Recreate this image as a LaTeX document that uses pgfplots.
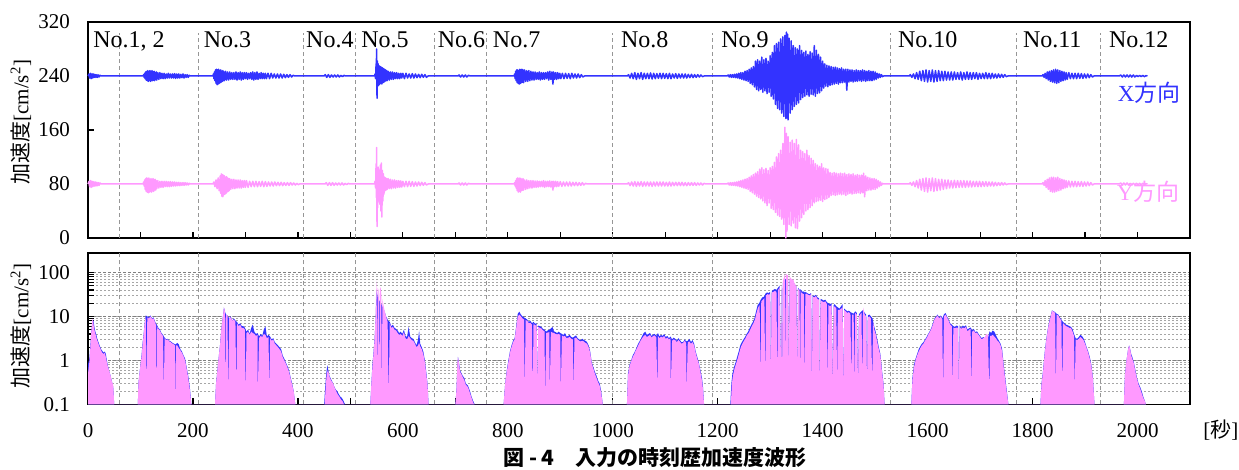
\documentclass[border=0pt]{standalone}
\usepackage{fontspec}
\setmainfont{Liberation Serif}
\newfontfamily\jp{Noto Sans CJK JP}
\usepackage{pgfplots}
\pgfplotsset{compat=1.18}
\definecolor{xblue}{RGB}{51,51,255}
\definecolor{ypink}{RGB}{255,153,255}
\definecolor{sepgray}{RGB}{150,150,150}
\pgfplotsset{
  common/.style={
    scale only axis, width=551pt, xmin=0, xmax=2100, clip=false,
    axis line style={line width=0.9pt},
    tick align=inside, xtick pos=bottom, ytick pos=left,
    major tick length=3pt, minor tick length=3pt,
    tick style={black, line width=0.6pt},
    xtick={0,200,...,2000}, minor x tick num=1,
    tick label style={font=\fontsize{10.5}{12}\selectfont},
    /pgf/number format/assume math mode=true,
    /pgf/number format/1000 sep={},
    yticklabel shift=5.5pt,
  },
  sepline/.style={sepgray, line width=0.5pt, dash pattern=on 2pt off 1.5pt, unbounded coords=jump},
  wave/.style={line width=0.75pt, line join=round},
}

\begin{document}
\begin{tikzpicture}
\useasboundingbox (-44pt,-116pt) rectangle (575.5pt,119pt);

% upper: acceleration time history
\begin{axis}[common, at={(0pt,0pt)}, anchor=south west, height=108pt,
  ymin=0, ymax=320, ytick={0,80,160,240,320}, xticklabels={}]
\addplot[sepline] coordinates {(60,0)(60,304)(60,nan) (210,0)(210,304)(210,nan) (410,0)(410,304)(410,nan) (510,0)(510,304)(510,nan) (660,0)(660,304)(660,nan) (760,0)(760,304)(760,nan) (1000,0)(1000,304)(1000,nan) (1190,0)(1190,304)(1190,nan) (1530,0)(1530,304)(1530,nan) (1770,0)(1770,304)(1770,nan) (1930,0)(1930,304)};

% X direction (offset 240)
\addplot[wave, xblue] coordinates {
(0,240) (2,243) (3,237) (5,244) (6,236) (8,243) (9,237) (11,243) (12,238) (14,242) (15,238) (17,242) (18,238) (20,241.5) (21,238.5) (23,241) (25,240)
(105,240) (106,242) (107,238) (108,244) (109,236) (110,246) (111,234) (112,247) (113,233) (114,248) (115,232) (116,246) (117,234) (118,248) (119,232) (120,247) (121,233) (122,248) (123,233) (124,246) (125,234) (126,247) (127,233) (128,245) (129,235) (130,246) (131,234) (133,245) (135,235) (137,245) (139,236) (141,244) (143,236) (145,244) (147,236) (149,243) (151,237) (153,244) (155,237) (157,243) (159,237) (161,243) (163,237) (165,243.5) (167,236.5) (169,243) (171,237) (173,243) (175,237) (177,242.5) (179,237.5) (181,243) (183,237) (185,242) (187,238) (189,242) (191,238) (193,241) (195,240)
(238,240) (239,243) (240,236) (241,246) (242,233) (243,249) (244,229) (245,250) (246,227) (247,249) (248,228) (249,250) (250,229) (251,248) (252,230) (253,249) (254,231) (255,247) (256,232) (257,248) (258,233) (259,246) (260,233) (262,247) (264,234) (266,246) (268,234) (270,246) (272,235) (274,245) (276,235) (278,245) (280,235) (282,246) (284,234) (286,245) (288,235) (290,246) (292,234) (294,245) (296,235) (298,245) (300,236) (302,245) (304,235) (306,244) (308,236) (310,245) (312,235) (314,246) (316,234) (318,245) (320,235) (322,246) (324,235) (326,244) (328,236) (330,245) (332,236) (334,244) (336,236) (338,244) (340,236) (343,244) (346,236) (349,244) (352,237) (355,243) (358,237) (361,243) (364,237) (367,243) (370,237) (373,242.5) (376,237.5) (379,242) (382,238) (385,242) (388,238.5) (391,241) (394,240)
(450,240) (452,242) (455,238) (458,242) (461,238) (464,241.5) (467,238.5) (470,241.5) (473,238.5) (476,241.5) (479,238.5) (482,241) (485,239) (488,241) (490,240)
(546,240) (547,243) (548,236) (549,258) (549.5,250) (550,280) (550.5,215) (551,207) (551.5,262) (552,225) (553,258) (554,226) (555,255) (556,228) (557,254) (558,229) (559,253) (560,228) (561,252) (562,230) (563,251) (564,231) (565,250) (566,232) (567,249) (568,233) (569,248) (570,233) (572,247) (574,234) (576,246) (578,235) (580,246) (582,235) (584,245) (586,236) (588,245) (590,236) (592,244) (594,236) (596,244) (598,237) (600,244) (603,236) (606,244) (609,237) (612,243) (615,237) (618,243.5) (621,237) (624,243) (627,237.5) (630,242.5) (633,237.5) (636,242.5) (639,238) (642,242) (645,238) (648,240)
(705,240) (707,241.5) (710,238.5) (713,241.5) (716,238.5) (719,241.5) (722,238.5) (725,241) (728,240)
(812,240) (813,243) (814,236) (815,247) (816,233) (817,249) (818,230) (819,249) (820,229) (821,248) (822,228) (823,250) (824,229) (825,249) (826,230) (827,250) (828,231) (829,249) (830,230) (832,249) (834,232) (836,248) (838,232) (840,248) (842,233) (844,247) (846,234) (848,246) (850,234) (852,246) (854,235) (856,245) (858,235) (860,246) (862,234) (864,245) (866,235) (868,245) (870,235) (872,245) (874,236) (876,246) (878,234) (880,247) (882,235) (884,246) (886,228) (887,246) (889,235) (891,245) (893,235) (895,245) (897,236) (899,244) (901,236) (904,244) (907,236) (910,244) (913,236.5) (916,243.5) (919,236) (922,244) (925,237) (928,243) (931,237) (934,243) (937,237.5) (940,242) (943,238.5) (946,240)
(1028,240) (1030,242) (1033,237) (1036,244) (1039,236) (1042,245) (1045,235) (1048,244) (1051,236) (1054,245) (1057,235) (1060,244) (1063,236) (1066,244) (1069,236) (1072,244.5) (1075,235.5) (1078,244) (1081,236) (1084,243.5) (1087,236.5) (1090,244) (1093,236) (1096,244) (1099,236.5) (1102,243.5) (1105,236) (1108,244) (1111,236) (1114,243) (1117,237) (1120,243.5) (1123,236.5) (1126,243) (1129,237) (1132,243) (1135,237) (1138,243) (1141,237) (1144,242.5) (1147,237.5) (1150,242.5) (1153,237.5) (1156,242) (1159,238) (1162,242) (1165,238.5) (1168,241.5) (1171,239) (1174,240)
(1218,240) (1220,241.5) (1222,238.5) (1224,242) (1226,238) (1228,242) (1230,238) (1232,242.5) (1234,237.5) (1236,243) (1238,237) (1240,244) (1242,236) (1244,245) (1246,235) (1248,245) (1250,234) (1252,247) (1254,233) (1256,248) (1258,232) (1260,250) (1262,229) (1264,252) (1266,227) (1268,254) (1270,224) (1272,262) (1274,220) (1276,264) (1278,218) (1280,262) (1282,220) (1284,268) (1286,216) (1288,264) (1290,218) (1292,266) (1294,214) (1296,262) (1298,216) (1300,270) (1302,210) (1304,275) (1306,206) (1308,285) (1310,198) (1312,288) (1314,192) (1316,290) (1318,190) (1320,295) (1322,185) (1324,298) (1326,180) (1328,300) (1330,177) (1331,305) (1332,178) (1333,302) (1334,175) (1336,296) (1338,185) (1340,292) (1342,190) (1344,285) (1346,195) (1348,282) (1350,198) (1352,280) (1354,200) (1356,285) (1358,205) (1360,278) (1362,208) (1364,275) (1366,210) (1368,277) (1370,212) (1372,272) (1374,210) (1376,276) (1378,213) (1380,274) (1382,212) (1384,285) (1386,210) (1388,278) (1390,214) (1392,272) (1394,215) (1396,268) (1398,218) (1400,262) (1402,222) (1404,258) (1406,225) (1408,256) (1410,224) (1412,255) (1414,226) (1416,254) (1418,227) (1420,253) (1422,228) (1424,253) (1426,229) (1428,252) (1430,228) (1432,251) (1434,230) (1436,252) (1438,230) (1440,250) (1442,231) (1444,250) (1446,219) (1448,250) (1450,231) (1452,249) (1454,232) (1456,249) (1458,231) (1460,248) (1462,232) (1464,249) (1466,232) (1468,248) (1470,233) (1472,248) (1474,232) (1476,249) (1478,233) (1480,248) (1482,232) (1484,247) (1486,233) (1488,248) (1490,233) (1492,247) (1494,233) (1496,247) (1498,234) (1500,246) (1502,235) (1504,244) (1506,237) (1508,243) (1510,238) (1512,242) (1514,239) (1516,240)
(1565,240) (1567,242) (1570,238) (1573,243) (1576,236) (1579,245) (1582,235) (1585,247) (1588,233) (1591,248) (1594,232) (1597,249) (1600,231) (1603,248) (1606,232) (1609,249) (1612,231) (1615,248) (1618,232) (1621,248) (1624,233) (1627,247) (1630,233) (1633,247) (1636,234) (1639,246) (1642,234) (1645,246) (1648,234) (1651,246) (1654,235) (1657,245) (1660,235) (1663,246) (1666,234) (1669,245) (1672,235) (1675,246) (1678,235) (1681,245) (1684,235) (1687,245) (1690,236) (1693,245) (1696,235) (1699,244) (1702,236) (1705,244) (1708,236) (1711,245) (1714,236) (1717,244) (1720,236) (1723,244) (1726,237) (1729,243) (1732,237) (1735,243) (1738,237.5) (1741,242.5) (1744,238) (1747,242) (1750,239) (1753,240)
(1818,240) (1820,242) (1822,238) (1824,244) (1826,236) (1828,246) (1830,234) (1832,247) (1834,232) (1836,248) (1838,231) (1840,249) (1842,230) (1844,250) (1846,229) (1848,249) (1850,230) (1852,248) (1854,232) (1856,247) (1858,233) (1860,246) (1862,234) (1864,245) (1866,235) (1869,245) (1872,236) (1875,244) (1878,236) (1881,244) (1884,236) (1887,244) (1890,236.5) (1893,243.5) (1896,236.5) (1899,243) (1902,237) (1905,243) (1908,237.5) (1911,242) (1914,238.5) (1917,240)
(1965,240) (1968,241.5) (1971,238.5) (1974,241.5) (1977,238.5) (1980,241.5) (1983,238.5) (1986,241.5) (1989,238.5) (1992,241.5) (1995,238.5) (1998,241) (2001,239) (2004,241) (2007,239) (2010,241) (2013,239) (2016,240.5) (2019,240)
};

% Y direction (offset 80)
\addplot[wave, ypink] coordinates {
(0,80) (2,84) (3,76) (5,85) (6,75) (8,84) (9,76) (11,83.5) (12,77) (14,83) (15,77) (17,82.5) (18,77.5) (20,82) (21,78) (23,81.5) (25,80)
(105,80) (106,83) (107,77) (108,86) (109,72) (110,88) (111,69) (112,89) (113,68) (114,88) (115,67) (116,89) (117,68) (118,87) (119,69) (120,88) (121,68) (122,87) (123,70) (124,88) (125,69) (126,86) (127,71) (128,87) (129,71) (130,85) (131,73) (133,85) (135,74) (137,84) (139,75) (141,84) (143,75) (145,84) (147,76) (149,84) (151,76) (153,83.5) (155,76) (157,83.5) (159,76.5) (161,83) (163,77) (165,83) (167,77) (169,82.5) (171,77.5) (173,82.5) (175,77.5) (177,82) (179,78) (181,82) (183,78) (185,82) (187,78.5) (189,81.5) (191,78.5) (193,81) (195,80)
(238,80) (240,83) (242,76) (244,86) (246,73) (248,89) (250,70) (252,92) (253,66) (254,95) (255,62) (256,94) (257,61) (258,93) (259,64) (260,92) (261,65) (262,90) (263,66) (264,91) (265,68) (266,89) (267,69) (268,88) (269,70) (270,88) (272,72) (274,87) (276,73) (278,87) (280,73) (282,86) (284,74) (286,86) (288,74) (290,86) (292,74) (294,85) (296,75) (298,85) (300,75) (302,85) (305,75) (308,84) (311,76) (314,84) (317,76) (320,84) (323,76) (326,83.5) (329,76.5) (332,84) (335,76) (338,83.5) (341,76.5) (344,83) (347,77) (350,83) (353,77) (356,83) (359,77.5) (362,82.5) (365,77.5) (368,82.5) (371,77.5) (374,82) (377,78) (380,82) (383,78) (386,82) (389,78.5) (392,81.5) (395,78.5) (398,81) (401,79) (403,80)
(452,80) (454,82) (457,78) (460,82) (463,78) (466,82) (469,78) (472,81.5) (475,78.5) (478,81.5) (481,78.5) (484,81.5) (487,78.5) (490,81) (493,79) (496,81) (499,80)
(546,80) (547,84) (548,74) (549,110) (549.5,60) (550,134) (550.5,30) (551,17) (551.5,100) (552,45) (553,105) (554,55) (555,100) (556,50) (557,108) (558,40) (559,111) (560,31) (561,100) (562,55) (563,95) (564,65) (565,90) (566,70) (567,89) (568,71) (569,88) (570,72) (572,88) (574,73) (576,87) (578,73) (580,86) (582,74) (584,86) (586,74) (588,85) (590,75) (592,85) (594,75) (596,84.5) (598,75.5) (600,84) (603,76) (606,84) (609,76) (612,84) (615,76.5) (618,83.5) (621,76.5) (624,83) (627,77) (630,83) (633,77.5) (636,82.5) (639,78) (642,82) (645,78.5) (648,80)
(705,80) (707,81.5) (710,78.5) (713,81.5) (716,78.5) (719,81.5) (722,78.5) (725,81) (728,80)
(812,80) (813,82) (814,77) (815,85) (816,74) (817,88) (818,70) (819,89) (820,68) (821,88) (822,69) (823,89) (824,68) (825,88) (826,70) (827,87) (828,71) (829,88) (830,71) (832,86) (834,72) (836,86) (838,73) (840,85) (842,74) (844,85) (846,74) (848,85) (850,75) (852,84.5) (854,75) (856,84.5) (858,75.5) (860,84) (862,76) (864,84) (866,76) (868,85) (870,75) (872,84) (874,76) (876,84) (878,76) (880,84.5) (882,75.5) (884,84) (886,71) (887,84) (889,76) (891,84) (893,76) (895,83.5) (897,76.5) (900,83.5) (903,76.5) (906,83) (909,77) (912,83) (915,77) (918,83) (921,77) (924,82.5) (927,77.5) (930,82.5) (933,77.5) (936,82) (939,78) (942,82) (945,78.5) (948,81) (951,80)
(1028,80) (1030,82) (1033,77.5) (1036,83) (1039,77) (1042,83.5) (1045,76.5) (1048,83) (1051,77) (1054,83.5) (1057,76.5) (1060,83) (1063,77) (1066,83) (1069,77) (1072,83) (1075,76.5) (1078,83) (1081,77) (1084,83) (1087,77) (1090,83) (1093,77) (1096,83) (1099,77) (1102,82.5) (1105,77) (1108,83) (1111,77) (1114,82.5) (1117,77.5) (1120,82.5) (1123,77.5) (1126,82.5) (1129,77.5) (1132,82.5) (1135,77.5) (1138,82) (1141,77.5) (1144,82) (1147,78) (1150,82) (1153,78) (1156,82) (1159,78) (1162,81.5) (1165,78.5) (1168,81.5) (1171,78.5) (1174,81) (1177,80)
(1218,80) (1220,81.5) (1222,78.5) (1224,82) (1226,78) (1228,82) (1230,78) (1232,82.5) (1234,77.5) (1236,83) (1238,77) (1240,84) (1242,76) (1244,85) (1246,75) (1248,86) (1250,74) (1252,87) (1254,73) (1256,88) (1258,72) (1260,90) (1262,69) (1264,92) (1266,67) (1268,94) (1270,65) (1272,96) (1274,62) (1276,98) (1278,60) (1280,102) (1282,58) (1284,104) (1286,55) (1288,101) (1290,52) (1292,103) (1294,48) (1296,100) (1298,52) (1300,104) (1302,44) (1304,106) (1306,42) (1308,112) (1310,38) (1312,120) (1314,34) (1316,125) (1318,32) (1320,130) (1322,28) (1324,140) (1326,20) (1328,164) (1330,0) (1331,155) (1332,10) (1334,150) (1336,20) (1338,142) (1340,18) (1342,145) (1344,22) (1346,140) (1348,15) (1350,146) (1352,14) (1354,138) (1356,25) (1358,130) (1360,30) (1362,128) (1364,35) (1366,125) (1368,40) (1370,130) (1372,42) (1374,122) (1376,45) (1378,118) (1380,48) (1382,115) (1384,52) (1386,110) (1388,54) (1390,108) (1392,55) (1394,106) (1396,56) (1398,110) (1400,54) (1402,104) (1404,57) (1406,103) (1408,58) (1410,102) (1412,60) (1414,97) (1416,63) (1418,96) (1420,64) (1422,97) (1424,63) (1426,96) (1428,64) (1430,95) (1432,65) (1434,96) (1436,64) (1438,95) (1440,65) (1442,96) (1444,63) (1446,94) (1448,65) (1450,95) (1452,66) (1454,94) (1456,65) (1458,95) (1460,66) (1462,93) (1464,66) (1466,94) (1468,67) (1470,93) (1472,66) (1474,93) (1476,67) (1478,96) (1480,61) (1482,92) (1484,70) (1486,90) (1488,71) (1490,89) (1492,71) (1494,88) (1496,72) (1498,88) (1500,72) (1502,87) (1504,74) (1506,85) (1508,76) (1510,83) (1512,78) (1514,81) (1516,80)
(1565,80) (1567,82) (1570,78) (1573,83) (1576,76) (1579,85) (1582,74) (1585,87) (1588,71) (1591,88) (1594,69) (1597,89) (1600,68) (1603,88) (1606,70) (1609,89) (1612,69) (1615,88) (1618,70) (1621,87) (1624,71) (1627,87) (1630,72) (1633,86) (1636,73) (1639,86) (1642,74) (1645,85) (1648,74) (1651,85.5) (1654,74.5) (1657,85) (1660,75) (1663,85) (1666,75) (1669,85) (1672,75) (1675,84.5) (1678,75.5) (1681,84.5) (1684,75.5) (1687,84) (1690,76) (1693,84) (1696,76) (1699,84) (1702,76) (1705,83.5) (1708,76.5) (1711,83.5) (1714,76.5) (1717,83) (1720,77) (1723,83) (1726,77) (1729,82.5) (1732,77.5) (1735,82) (1738,78) (1741,82) (1744,78.5) (1747,81.5) (1750,79) (1753,80)
(1818,80) (1820,82) (1822,78) (1824,85) (1826,75) (1828,87) (1830,72) (1832,89) (1834,69) (1836,90) (1838,68) (1840,90) (1842,68) (1844,89) (1846,69) (1848,90) (1850,70) (1852,88) (1854,71) (1856,87) (1858,73) (1860,86) (1862,74) (1864,85) (1866,75) (1869,84.5) (1872,75.5) (1875,84) (1878,76) (1881,84) (1884,76) (1887,83.5) (1890,76.5) (1893,83.5) (1896,76.5) (1899,83) (1902,77) (1905,83) (1908,77.5) (1911,82) (1914,78.5) (1917,80)
(1965,80) (1968,81.5) (1971,78.5) (1974,81.5) (1977,78.5) (1980,81.5) (1983,78.5) (1986,81) (1989,79) (1992,81) (1995,79) (1998,81) (2001,79) (2004,81) (2007,79) (2010,81) (2013,79) (2016,80.5) (2019,80)
};

\node[anchor=base west, inner sep=0pt, font=\fontsize{12}{14}\selectfont] at (axis cs:9.5,281.5) {No.1, 2};
\node[anchor=base west, inner sep=0pt, font=\fontsize{12}{14}\selectfont] at (axis cs:220,281.5) {No.3};
\node[anchor=base west, inner sep=0pt, font=\fontsize{12}{14}\selectfont] at (axis cs:415,281.5) {No.4};
\node[anchor=base west, inner sep=0pt, font=\fontsize{12}{14}\selectfont] at (axis cs:520,281.5) {No.5};
\node[anchor=base west, inner sep=0pt, font=\fontsize{12}{14}\selectfont] at (axis cs:666,281.5) {No.6};
\node[anchor=base west, inner sep=0pt, font=\fontsize{12}{14}\selectfont] at (axis cs:771,281.5) {No.7};
\node[anchor=base west, inner sep=0pt, font=\fontsize{12}{14}\selectfont] at (axis cs:1015,281.5) {No.8};
\node[anchor=base west, inner sep=0pt, font=\fontsize{12}{14}\selectfont] at (axis cs:1206,281.5) {No.9};
\node[anchor=base west, inner sep=0pt, font=\fontsize{12}{14}\selectfont] at (axis cs:1543,281.5) {No.10};
\node[anchor=base west, inner sep=0pt, font=\fontsize{12}{14}\selectfont] at (axis cs:1781,281.5) {No.11};
\node[anchor=base west, inner sep=0pt, font=\fontsize{12}{14}\selectfont] at (axis cs:1945,281.5) {No.12};

\node[anchor=west, inner sep=0pt, text=xblue, font=\fontsize{11.5}{13}\selectfont] at (axis cs:1962,215.5) {X{\jp 方向}};
\node[anchor=west, inner sep=0pt, text=ypink, font=\fontsize{11.5}{13}\selectfont] at (axis cs:1960,68.6) {Y{\jp 方向}};

\node[rotate=90, font=\fontsize{10.5}{12}\selectfont] at (rel axis cs:-0.0608,0.537) {{\jp 加速度}[cm/s\textsuperscript{2}]};
\end{axis}

% lower: absolute acceleration, log scale
\begin{axis}[common, at={(0pt,-83.25pt)}, anchor=south west, height=75.9pt,
  ymode=log, ymin=0.1, ymax=280, ytick={0.1,1,10,100}, yticklabels={0.1,1,10,100},
  xticklabel shift=6pt,
  ymajorgrids, yminorgrids,
  major grid style={gray, line width=0.4pt, dash pattern=on 1.5pt off 1pt},
  minor grid style={gray!70, line width=0.3pt, dash pattern=on 1pt off 1pt}]
\addplot[sepline] coordinates {(60,0.1)(60,280)(60,nan) (210,0.1)(210,280)(210,nan) (410,0.1)(410,280)(410,nan) (510,0.1)(510,280)(510,nan) (660,0.1)(660,280)(660,nan) (760,0.1)(760,280)(760,nan) (1000,0.1)(1000,280)(1000,nan) (1190,0.1)(1190,280)(1190,nan) (1530,0.1)(1530,280)(1530,nan) (1770,0.1)(1770,280)(1770,nan) (1930,0.1)(1930,280)};

% X direction
\addplot[draw=none, fill=xblue] coordinates {
(0,0.1) (0,0.8) (3,1.2) (6,4) (8,7) (10,8.5) (12,6) (14,4.5) (16,3.8) (18,3) (20,2.6) (22,2.2) (25,1.8) (28,1.6) (30,1.5) (32,1.6) (34,1.4) (36,1.0) (38,0.75) (40,0.6) (43,0.45) (46,0.32) (48,0.25) (50,0.1)
(95,0.1) (96,0.3) (98,0.5) (100,0.8) (102,1.3) (104,2.5) (106,4) (108,7) (110,10.5) (113,10) (116,9.5) (119,10.5) (122,9) (125,9.5) (128,7.5) (131,6.5) (134,5.5) (137,5) (140,4.2) (143,3.8) (146,3.3) (149,3) (152,3.1) (155,2.8) (158,2.7) (161,2.5) (164,2.4) (167,2.3) (170,2.5) (173,2.3) (176,1.8) (179,1.6) (182,1.3) (185,1.1) (188,0.7) (191,0.45) (194,0.25) (197,0.1)
(242,0.1) (244,0.3) (246,0.5) (248,0.9) (250,1.5) (252,2.5) (254,5) (256,8) (258,12) (259,16) (261,13) (263,11) (266,10.5) (269,9) (272,10) (275,8) (278,9) (281,8) (284,7.5) (287,6.5) (290,7) (293,6) (296,6) (299,5.5) (302,4.5) (305,5) (308,4) (311,5.5) (314,6.5) (317,4.5) (320,4) (323,4.2) (326,3.5) (329,4) (332,3.6) (335,5) (338,6) (341,3.5) (344,3.8) (347,3.5) (350,3) (353,3.2) (356,2.6) (359,2.4) (362,2.2) (365,2) (368,1.8) (371,1.3) (374,1.1) (377,0.9) (380,0.75) (383,0.6) (386,0.42) (389,0.3) (392,0.2) (395,0.1)
(450,0.1) (452,0.25) (454,0.5) (456,0.78) (458,0.6) (460,0.45) (463,0.38) (466,0.32) (469,0.26) (472,0.22) (475,0.2) (478,0.17) (481,0.15) (484,0.14) (487,0.12) (490,0.1)
(538,0.1) (540,0.3) (542,0.8) (544,1.5) (546,3) (548,8) (549,20) (550,40) (552,28) (554,24) (556,22) (558,20) (560,18) (562,16) (564,14) (566,12) (568,10) (570,9) (572,8) (575,7.5) (578,6) (581,6.5) (584,5.5) (587,5.2) (590,4.8) (593,4.2) (596,4.5) (599,4) (602,5) (605,3.6) (608,3.4) (611,5.8) (614,3.5) (617,3.2) (620,3.1) (623,2.6) (626,2.2) (629,3) (631,4.8) (633,2.4) (636,2) (639,1.6) (642,1) (645,0.5) (647,0.3) (649,0.1)
(700,0.1) (702,0.2) (704,0.8) (705,1.2) (707,0.9) (709,0.6) (712,0.5) (714,0.45) (717,0.4) (720,0.3) (724,0.27) (728,0.2) (731,0.15) (734,0.12) (737,0.1)
(792,0.1) (795,0.3) (798,0.6) (801,1.0) (804,1.6) (807,2.2) (810,2.8) (813,3.2) (816,6) (819,11.5) (822,12.8) (825,11) (828,10) (831,9.5) (834,9) (837,8.5) (840,7.5) (843,8) (846,7) (849,7.5) (852,6.8) (855,7) (856.5,0.2) (858,6.2) (861,6) (864,5.8) (867,5.2) (870,5) (873,4.5) (876,4.8) (879,5) (882,5.3) (885,5.8) (888,4.6) (891,4.4) (894,4.2) (897,4.5) (900,4.2) (903,4.0) (906,3.8) (909,4.2) (912,3.5) (915,3.6) (918,3.8) (921,3.4) (924,3.3) (927,3.5) (930,3.7) (933,3.2) (936,3) (939,2.9) (942,3.1) (945,2.9) (948,2.8) (951,2.6) (954,2.2) (957,1.6) (960,0.9) (963,0.7) (966,0.55) (969,0.45) (972,0.35) (975,0.3) (978,0.2) (981,0.1)
(1027,0.1) (1029,0.5) (1032,0.8) (1035,1.0) (1038,1.3) (1041,1.5) (1044,1.8) (1047,2.2) (1050,2.6) (1053,3) (1056,3.6) (1059,4.2) (1062,4.5) (1065,3.8) (1068,4) (1071,4.2) (1074,3.6) (1077,3.9) (1080,4) (1083,3.6) (1086,4.2) (1089,3.5) (1092,3.8) (1095,3.6) (1098,4) (1101,3.4) (1104,3.6) (1107,3.2) (1110,3.5) (1113,3) (1116,3.3) (1119,3.1) (1122,2.8) (1125,3.2) (1128,2.9) (1131,2.6) (1134,2.6) (1137,3.0) (1140,2.7) (1143,2.8) (1146,3.1) (1149,2.6) (1152,2.9) (1155,2.4) (1158,1.6) (1161,1.2) (1164,0.9) (1167,0.6) (1170,0.4) (1172,0.25) (1174,0.1)
(1224,0.1) (1226,0.3) (1228,0.5) (1231,0.7) (1234,0.9) (1237,1.2) (1240,1.6) (1243,2.2) (1246,2.6) (1249,3) (1252,3.4) (1255,4) (1258,4.5) (1261,5.5) (1264,6.5) (1267,7.5) (1270,9) (1273,13) (1276,18) (1279,20) (1282,24) (1285,27) (1288,28) (1291,33) (1294,35) (1297,34) (1300,36) (1301,0.3) (1303,38) (1306,40) (1309,42) (1312,40) (1315,45) (1318,50) (1319,0.5) (1321,52) (1322.5,0.2) (1324,58) (1327,65) (1330,72) (1332,75) (1334,70) (1335.5,0.4) (1337,66) (1340,62) (1342,60) (1344,58) (1346,55) (1348,52) (1350,48) (1351.5,0.3) (1353,45) (1356,40) (1358,41) (1360,38) (1362,36) (1364,37) (1366,35) (1368,36) (1370,34) (1372,33) (1375,32) (1378,34) (1379.5,0.2) (1381,30) (1384,29) (1387,31) (1390,27) (1393,26) (1394.5,0.15) (1396,25) (1399,24) (1402,23) (1405,24) (1408,21) (1411,20) (1414,19) (1417,20) (1419.5,0.3) (1421,18) (1423,19) (1426,17) (1429,16) (1432,15) (1435,17) (1438,19) (1439.5,0.2) (1441,15) (1444,14) (1447,13) (1450,13.5) (1453,12.5) (1456,12) (1459,11.5) (1462,13) (1465,12) (1467.5,0.25) (1469,11) (1471,12) (1474,13) (1477,14) (1480,12) (1483,11) (1484.5,0.2) (1486,10.5) (1489,11) (1492,10) (1495,9) (1498,6) (1501,4.5) (1504,3) (1507,2) (1510,1.4) (1513,0.6) (1516,0.3) (1518,0.1)
(1569,0.1) (1571,0.4) (1574,0.8) (1577,1.1) (1580,1.4) (1583,1.8) (1586,2.1) (1589,2.4) (1592,2.6) (1595,3) (1598,3.4) (1601,4) (1604,4.6) (1607,5.5) (1610,7) (1613,9) (1616,10) (1619,11) (1622,9.5) (1625,10.5) (1628,9) (1631,11) (1634,12) (1637,10) (1640,8.5) (1643,7) (1646,6.5) (1649,6) (1652,5.8) (1655,6.2) (1658,6) (1659.5,0.2) (1661,6.3) (1664,5.5) (1667,6.2) (1670,5.8) (1673,6.3) (1676,5) (1679,5.4) (1682,5.6) (1685,4.8) (1688,5.2) (1691,4.4) (1694,4.6) (1697,4) (1700,3.6) (1703,3.2) (1706,3.4) (1709,3.2) (1712,3.5) (1715,3.2) (1718,4.6) (1721,4.2) (1724,4.8) (1727,4.5) (1730,3.8) (1733,3.2) (1736,2.8) (1739,2.4) (1742,1.8) (1745,0.8) (1748,0.4) (1751,0.2) (1754,0.1)
(1815,0.1) (1817,0.3) (1820,0.6) (1823,1.5) (1826,3) (1829,5.2) (1832,8) (1835,11) (1837,13.7) (1840,13) (1843,12.5) (1846,11.5) (1849,11) (1852,9.5) (1855,8.5) (1858,7.5) (1861,7) (1864,6.5) (1867,6.3) (1870,6) (1873,5.8) (1876,5.2) (1879,4) (1882,3.2) (1885,3.1) (1888,3.4) (1891,3.8) (1894,3.6) (1897,3.2) (1900,2.6) (1903,2) (1906,1.6) (1909,1.2) (1912,0.8) (1915,0.4) (1918,0.1)
(1974,0.1) (1976,0.46) (1979,1) (1982,1.8) (1984,2.2) (1986,1.8) (1988,1.4) (1990,1.2) (1993,0.9) (1996,0.6) (1999,0.4) (2002,0.3) (2005,0.25) (2008,0.2) (2011,0.15) (2014,0.12) (2016,0.1)
};

% Y direction
\addplot[draw=none, fill=ypink] coordinates {
(0,0.1) (0,0.5) (3,1.0) (6,4) (8,8) (9,8.9) (11,6) (13,4.5) (15,3.7) (17,3) (19,2.6) (21,2.2) (24,1.8) (27,1.5) (30,1.4) (32,1.5) (34,1.2) (36,0.9) (38,0.72) (40,0.6) (43,0.45) (46,0.32) (48,0.28) (50,0.1)
(95,0.1) (96,0.3) (98,0.5) (100,0.8) (102,1.2) (104,2.2) (106,3.8) (108,7) (110,10) (111.5,0.2) (113,9.5) (116,9) (119,10) (122,8.8) (125,9) (128,7.2) (130,6.2) (131,0.1) (132,6) (134,5.2) (137,4.8) (140,4) (143,3.6) (144.5,0.2) (146,3.2) (149,2.9) (152,3) (155,2.7) (158,2.6) (161,2.4) (164,2.3) (166,2.2) (167,0.1) (168,2.2) (170,2.2) (173,1.9) (176,1.7) (179,1.5) (182,1.25) (185,1.0) (188,0.65) (191,0.4) (194,0.22) (197,0.1)
(242,0.1) (244,0.3) (246,0.5) (248,0.9) (250,1.5) (252,2.5) (254,5) (256,8) (258,12) (259,16) (261,13) (262,0.1) (263,11) (266,10.5) (267,0.15) (269,9) (272,9.5) (275,8) (278,8.5) (281,7.5) (282.5,0.2) (284,7) (287,6) (290,6.5) (293,5.5) (296,5.5) (299,5) (300.5,0.15) (302,4.2) (305,4.5) (308,3.8) (311,4.5) (314,4.2) (317,4) (320,3.6) (323,3.8) (323.5,0.2) (326,3.2) (329,3.6) (332,3.4) (335,4) (338,3.8) (341,3.2) (344,3.4) (345.5,0.2) (347,3.2) (350,2.8) (353,3) (356,2.4) (359,2.2) (362,2) (365,1.8) (368,1.6) (371,1.2) (374,1.0) (377,0.85) (380,0.7) (383,0.55) (386,0.4) (389,0.28) (392,0.2) (395,0.1)
(451,0.1) (453,0.25) (455,0.5) (457,0.6) (459,0.5) (461,0.4) (464,0.34) (467,0.3) (470,0.24) (473,0.2) (476,0.17) (479,0.15) (482,0.13) (485,0.12) (488,0.1)
(538,0.1) (540,0.3) (542,0.7) (544,1.4) (546,2.8) (548,10) (549,35) (550,66) (551,0.3) (552,45) (554,38) (555,0.2) (556,40) (558,46) (559,30) (560,0.2) (561,25) (563,18) (565,14) (567,11) (569,9) (571,7.5) (573,0.15) (575,7) (578,5.5) (581,5.8) (584,5) (587,4.8) (590,4.2) (593,3.8) (596,4) (599,3.6) (602,4.4) (605,3.2) (608,3) (611,3.6) (614,3.2) (617,2.9) (620,2.8) (623,2.4) (626,2) (629,2.2) (631,2.5) (633,2.1) (636,1.8) (639,1.4) (642,0.9) (645,0.45) (647,0.28) (649,0.1)
(700,0.1) (702,0.2) (704,0.9) (705,1.2) (707,0.85) (709,0.55) (712,0.48) (714,0.42) (717,0.36) (720,0.28) (724,0.25) (728,0.18) (731,0.14) (734,0.11) (736,0.1)
(792,0.1) (795,0.3) (798,0.55) (801,0.9) (804,1.5) (807,2) (810,2.6) (813,3) (816,5.5) (819,10) (822,11) (825,10) (828,9) (831,8.5) (832,0.2) (834,8.2) (837,8) (840,7) (843,7.2) (846,6.5) (847.5,0.2) (849,7) (852,6.2) (855,6.5) (856.5,0.2) (858,5.8) (861,5.5) (864,5.3) (867,4.8) (870,4.6) (871,0.15) (873,4.2) (876,4.3) (879,4.4) (880,0.2) (882,4.5) (885,4.3) (888,4.2) (891,4) (894,3.9) (897,4.0) (900,3.8) (901,0.2) (903,3.7) (906,3.5) (909,3.6) (912,3.2) (915,3.3) (918,3.4) (921,3.1) (924,3) (925.5,0.2) (927,3.2) (930,3.3) (933,3) (936,2.8) (939,2.7) (942,2.8) (945,2.7) (948,2.5) (951,2.4) (954,2) (957,1.5) (960,0.85) (963,0.65) (966,0.5) (969,0.4) (972,0.32) (975,0.27) (978,0.18) (981,0.1)
(1027,0.1) (1029,0.45) (1032,0.75) (1035,0.95) (1038,1.2) (1041,1.4) (1044,1.7) (1047,2) (1050,2.4) (1053,2.8) (1056,3.2) (1059,3.6) (1062,3.8) (1065,3.4) (1068,3.6) (1071,3.8) (1074,3.3) (1077,3.6) (1080,3.7) (1083,3.3) (1085,0.2) (1086,3.6) (1089,3.2) (1092,3.5) (1095,3.3) (1098,3.6) (1101,3.1) (1104,3.3) (1107,3.0) (1110,3.2) (1110.5,0.25) (1113,2.8) (1116,3.0) (1119,2.9) (1122,2.6) (1125,2.9) (1128,2.7) (1131,2.4) (1134,2.5) (1137,2.8) (1140,2.5) (1140.5,0.2) (1143,2.6) (1146,2.7) (1149,2.4) (1152,2.6) (1155,2.2) (1158,1.5) (1161,1.1) (1164,0.85) (1167,0.55) (1170,0.35) (1172,0.22) (1174,0.1)
(1225,0.1) (1227,0.3) (1229,0.45) (1232,0.65) (1235,0.85) (1238,1.1) (1241,1.5) (1244,2) (1247,2.4) (1250,2.8) (1253,3.2) (1256,3.8) (1259,4.2) (1262,5) (1265,6) (1268,7) (1271,8.5) (1274,12) (1277,16) (1280,18) (1281,0.3) (1283,22) (1286,24) (1289,26) (1290.5,0.3) (1292,30) (1295,32) (1298,31) (1300,33) (1301,0.3) (1303,35) (1306,36) (1309,38) (1312,36) (1313.5,0.3) (1315,40) (1318,45) (1319,0.5) (1321,52) (1322.5,0.2) (1324,62) (1326,75) (1328,90) (1329,0.6) (1330,93) (1332,88) (1334,85) (1335.5,0.4) (1337,80) (1340,72) (1342,68) (1344,70) (1346,58) (1348,52) (1350,47) (1351.5,0.3) (1353,43) (1356,38) (1357,0.3) (1358,39) (1360,34) (1362,33) (1364,32) (1365.5,0.3) (1367,32) (1369,33) (1372,31) (1375,30) (1378,32) (1379.5,0.2) (1381,28) (1384,27) (1387,29) (1390,25) (1393,24) (1394.5,0.15) (1396,23) (1399,22) (1402,21) (1405,22) (1408,19) (1409.5,0.3) (1411,18) (1414,17) (1417,18) (1419.5,0.3) (1421,16) (1423,17) (1426,15) (1427.5,0.3) (1429,14) (1432,14) (1435,15) (1438,16) (1439.5,0.2) (1441,14) (1444,13) (1447,12) (1450,12.5) (1453,11.5) (1454.5,0.3) (1456,11) (1459,11) (1461,0.3) (1462,12) (1465,11) (1467.5,0.25) (1469,10) (1471,11) (1474,12) (1475.5,0.3) (1477,16) (1480,11) (1483,10) (1484.5,0.2) (1486,9.5) (1489,10) (1492,9) (1494.5,0.3) (1496,8) (1498,5.2) (1501,4) (1504,2.6) (1507,1.8) (1510,1.3) (1513,0.55) (1516,0.28) (1518,0.1)
(1569,0.1) (1571,0.35) (1574,0.7) (1577,1.0) (1580,1.3) (1583,1.6) (1586,1.9) (1589,2.2) (1592,2.4) (1595,2.8) (1598,3.2) (1601,3.8) (1604,4.4) (1607,5.2) (1610,6.5) (1613,8.5) (1616,9.5) (1619,10.5) (1622,9) (1625,10) (1628,8.5) (1629.5,0.2) (1631,10) (1634,11) (1637,9.5) (1640,8) (1643,6.5) (1646,6) (1647.5,0.2) (1649,5.6) (1652,5.4) (1655,5.6) (1658,5.5) (1659.5,0.2) (1661,5.8) (1664,5.2) (1667,5.6) (1670,5.4) (1673,5.8) (1676,4.6) (1679,5) (1682,5.2) (1683.5,0.2) (1685,4.5) (1688,4.8) (1691,4.2) (1694,4.3) (1697,3.8) (1700,3.4) (1703,3) (1706,3.2) (1709,3.4) (1712,4) (1715,3.8) (1717.5,0.2) (1719,3.6) (1721,3.6) (1724,3.8) (1727,3.5) (1730,3.2) (1733,2.8) (1736,2.6) (1739,2.2) (1742,1.6) (1745,0.7) (1748,0.35) (1751,0.18) (1754,0.1)
(1815,0.1) (1817,0.28) (1820,0.55) (1823,1.4) (1826,2.8) (1829,5) (1832,7.5) (1835,10.5) (1837,13.5) (1840,12.8) (1843,12) (1844.5,0.2) (1846,11) (1849,10.5) (1852,9) (1855,8) (1856.5,0.2) (1858,7) (1861,6.5) (1864,6) (1867,5.8) (1870,5.5) (1873,5.5) (1876,4.6) (1879,3.6) (1880.5,0.2) (1882,3) (1885,2.9) (1888,3.1) (1891,3.4) (1894,3.2) (1897,2.9) (1900,2.4) (1903,1.9) (1906,1.5) (1909,1.1) (1912,0.75) (1915,0.38) (1918,0.1)
(1974,0.1) (1976,0.45) (1979,1) (1982,1.8) (1984,2.2) (1986,1.8) (1988,1.3) (1990,1.1) (1993,0.85) (1996,0.55) (1999,0.38) (2002,0.28) (2005,0.23) (2008,0.18) (2011,0.14) (2014,0.12) (2016,0.1)
};

\node[rotate=90, font=\fontsize{10.5}{12}\selectfont] at (rel axis cs:-0.0608,0.52) {{\jp 加速度}[cm/s\textsuperscript{2}]};
\node[font=\fontsize{10.5}{12}\selectfont] at (rel axis cs:1.028,-0.168) {[{\jp 秒}]};
\node[font=\fontsize{10.5}{12}\selectfont\jp\bfseries] at (rel axis cs:0.5145,-0.352) {図 - 4　入力の時刻歴加速度波形};
\end{axis}
\end{tikzpicture}
\end{document}
